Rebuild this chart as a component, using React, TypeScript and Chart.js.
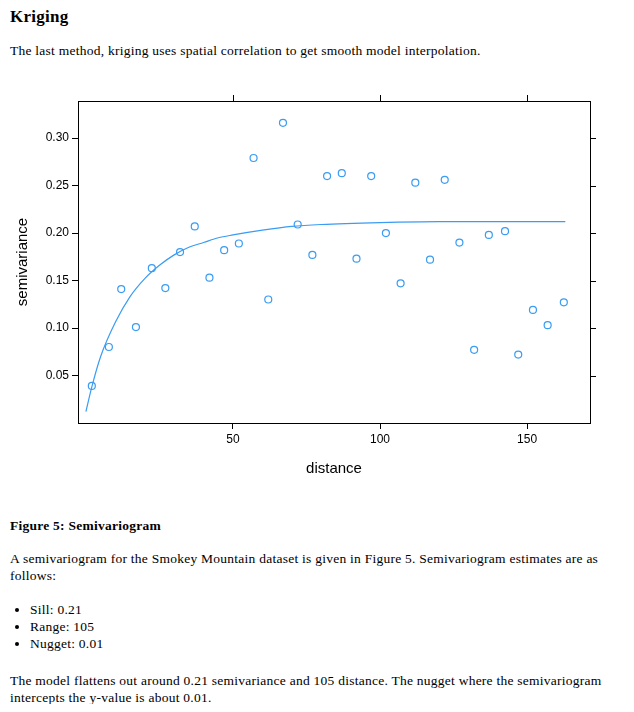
import { useEffect, useRef } from 'react'
import { Chart, registerables } from 'chart.js'

Chart.register(...registerables)

const distances = [2, 7.8, 12, 17, 22.4, 27, 32, 37, 42, 47, 52, 57, 62, 67, 72, 77, 82, 87, 92, 97, 102, 107, 112, 117, 122, 127, 132, 137, 142.5, 147, 152, 157, 162.5]
const gammas = [0.039, 0.08, 0.141, 0.101, 0.163, 0.142, 0.18, 0.207, 0.153, 0.182, 0.189, 0.279, 0.13, 0.316, 0.209, 0.177, 0.26, 0.263, 0.173, 0.26, 0.2, 0.147, 0.253, 0.172, 0.256, 0.19, 0.077, 0.198, 0.202, 0.072, 0.119, 0.103, 0.127]

const modelX = [0, 2, 5, 10, 15, 20, 25, 30, 35, 40, 45, 50, 60, 70, 80, 100, 120, 140, 163]
const modelY = [0.012, 0.038, 0.07, 0.106, 0.133, 0.152, 0.166, 0.177, 0.185, 0.19, 0.195, 0.198, 0.203, 0.207, 0.209, 0.211, 0.212, 0.212, 0.212]

const yTicks = [0.05, 0.1, 0.15, 0.2, 0.25, 0.3]
const xTicks = [50, 100, 150]

const BLUE = '#3a9cf2'
const FONT = "'Liberation Sans', Arial, sans-serif"

const mirrorTicks = {
  id: 'mirrorTicks',
  afterDraw(chart: any) {
    const { ctx, chartArea, scales } = chart
    ctx.save()
    ctx.strokeStyle = '#000'
    ctx.lineWidth = 1
    ctx.beginPath()
    xTicks.forEach((v) => {
      const px = Math.round(scales.x.getPixelForValue(v)) + 0.5
      ctx.moveTo(px, chartArea.top)
      ctx.lineTo(px, chartArea.top - 6)
    })
    yTicks.forEach((v) => {
      const py = Math.round(scales.y.getPixelForValue(v)) + 0.5
      ctx.moveTo(chartArea.right, py)
      ctx.lineTo(chartArea.right + 6, py)
    })
    ctx.stroke()
    ctx.restore()
  },
}

function Semivariogram() {
  const ref = useRef<HTMLCanvasElement>(null)

  useEffect(() => {
    if (!ref.current) return
    const chart = new Chart(ref.current, {
      type: 'scatter',
      data: {
        datasets: [
          {
            data: distances.map((d, i) => ({ x: d, y: gammas[i] })),
            borderColor: BLUE,
            backgroundColor: 'transparent',
            pointRadius: 3.5,
            borderWidth: 1.2,
          },
          {
            type: 'line',
            data: modelX.map((d, i) => ({ x: d, y: modelY[i] })),
            borderColor: BLUE,
            borderWidth: 1.2,
            pointRadius: 0,
            cubicInterpolationMode: 'monotone',
            fill: false,
          } as any,
        ],
      },
      options: {
        animation: false,
        responsive: false,
        layout: { padding: { left: 10, right: 30, top: 11, bottom: 8 } },
        plugins: { legend: { display: false }, tooltip: { enabled: false } },
        scales: {
          x: {
            type: 'linear',
            min: -2.7,
            max: 171.4,
            afterFit: (s: any) => { s.height = 59 },
            afterBuildTicks: (s: any) => { s.ticks = xTicks.map((v) => ({ value: v })) },
            grid: { drawOnChartArea: false, tickLength: 6, color: '#000' },
            border: { color: '#000', width: 1 },
            ticks: { color: '#000', font: { family: FONT, size: 12 } },
            title: { display: true, text: 'distance', color: '#000', font: { family: FONT, size: 15 } },
          },
          y: {
            min: 0,
            max: 0.339,
            afterFit: (s: any) => { s.width = 68 },
            afterBuildTicks: (s: any) => { s.ticks = yTicks.map((v) => ({ value: v })) },
            grid: { drawOnChartArea: false, tickLength: 6, color: '#000' },
            border: { color: '#000', width: 1 },
            ticks: { color: '#000', font: { family: FONT, size: 12 }, callback: (v: any) => Number(v).toFixed(2) },
            title: { display: true, text: 'semivariance', color: '#000', font: { family: FONT, size: 15 } },
          },
        },
      },
      plugins: [
        mirrorTicks,
        {
          id: 'box',
          afterDraw(c: any) {
            const { ctx, chartArea: a } = c
            ctx.save()
            ctx.strokeStyle = '#000'
            ctx.strokeRect(a.left + 0.5, a.top + 0.5, a.right - a.left, a.bottom - a.top)
            ctx.restore()
          },
        },
      ],
    })
    return () => chart.destroy()
  }, [])

  return <canvas ref={ref} width={620} height={400} style={{ position: 'absolute', left: 0, top: 90 }} />
}

const text: React.CSSProperties = { position: 'absolute', left: 10, margin: 0, fontFamily: "'Liberation Serif', serif", fontSize: 13.5, letterSpacing: 0.25, lineHeight: '17px', width: 615 }

export default function App() {
  return (
    <div style={{ position: 'relative', width: 634, height: 712, margin: -8 }}>
      <div style={{ ...text, top: 8, fontSize: 17, fontWeight: 'bold' }}>Kriging</div>
      <div style={{ ...text, top: 42 }}>The last method, kriging uses spatial correlation to get smooth model interpolation.</div>
      <Semivariogram />
      <div style={{ ...text, top: 517, fontWeight: 'bold' }}>Figure 5: Semivariogram</div>
      <div style={{ ...text, top: 550 }}>A semivariogram for the Smokey Mountain dataset is given in Figure 5. Semivariogram estimates are as follows:</div>
      <ul style={{ ...text, top: 601, paddingLeft: 20, listStyle: 'disc' }}>
        <li>Sill: 0.21</li>
        <li>Range: 105</li>
        <li>Nugget: 0.01</li>
      </ul>
      <div style={{ ...text, top: 672 }}>The model flattens out around 0.21 semivariance and 105 distance. The nugget where the semivariogram intercepts the y-value is about 0.01.</div>
    </div>
  )
}
